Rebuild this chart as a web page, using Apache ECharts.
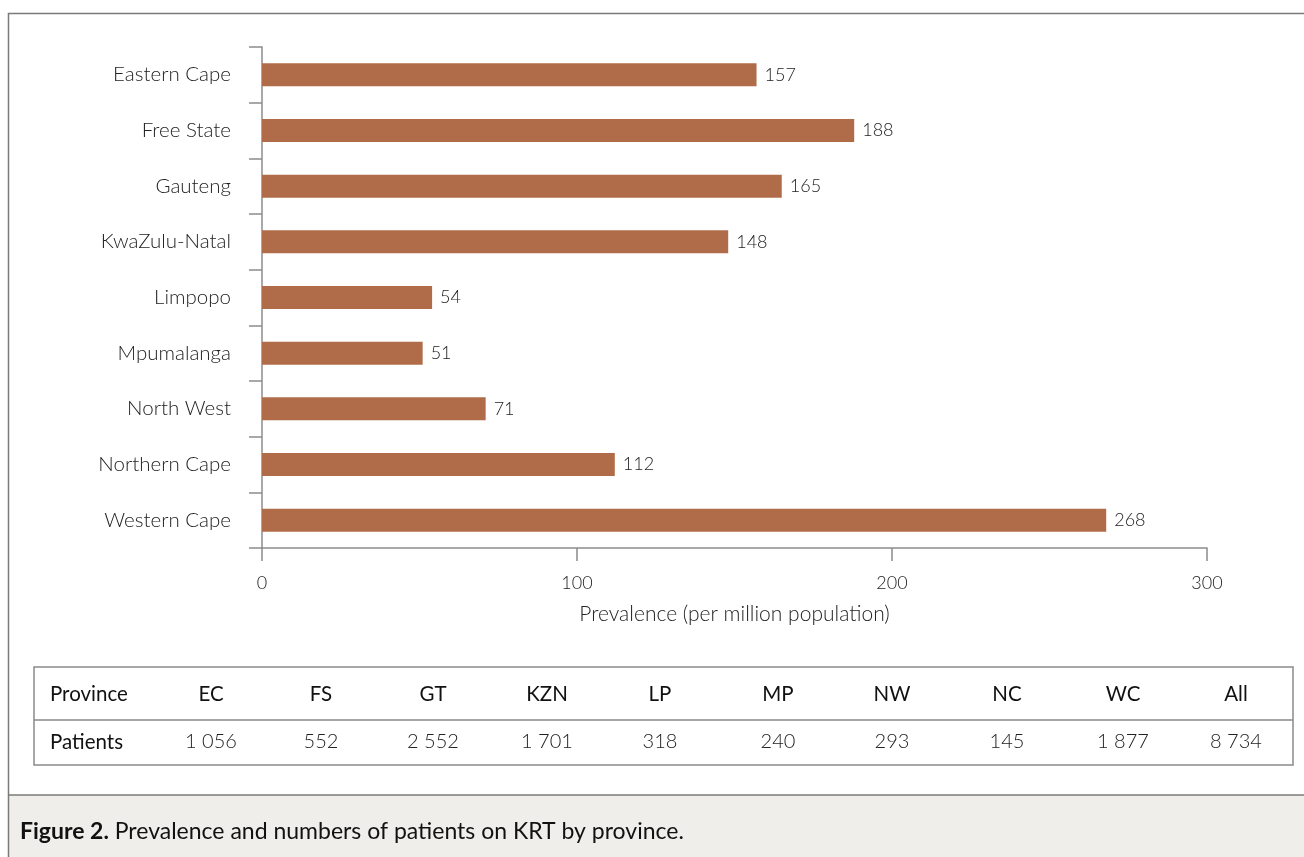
<!DOCTYPE html>
<html>
<head>
<meta charset="utf-8">
<style>
  html, body { margin: 0; padding: 0; background: #ffffff; }
  #chart { width: 1304px; height: 857px; }
</style>
<script src="https://cdn.jsdelivr.net/npm/echarts@6/dist/echarts.min.js"></script>
</head>
<body>
<div id="chart"></div>
<script>
// Provinces, top to bottom
const provinces = ['Eastern Cape', 'Free State', 'Gauteng', 'KwaZulu-Natal', 'Limpopo',
                   'Mpumalanga', 'North West', 'Northern Cape', 'Western Cape'];
// KRT prevalence per million population
const prevalence = [157, 188, 165, 148, 54, 51, 71, 112, 268];
// Patient counts table
const tableHeaders = ['EC', 'FS', 'GT', 'KZN', 'LP', 'MP', 'NW', 'NC', 'WC', 'All'];
const patientCounts = ['1 056', '552', '2 552', '1 701', '318', '240', '293', '145', '1 877', '8 734'];
const rowTitles = ['Province', 'Patients'];
const axisTitle = 'Prevalence (per million population)';
const captionBold = 'Figure 2.';
const captionText = ' Prevalence and numbers of patients on KRT by province.';

const FONT = 'Lato, "Open Sans", sans-serif';
const AXIS_GREY = '#8c8c8c';
const TEXT = '#222222';

const chart = echarts.init(document.getElementById('chart'), null, { renderer: 'canvas' });

// Table geometry
const tLeft = 34, tRight = 1293, tTop = 667, tMid = 720, tBottom = 765;
const colX = [211, 321, 433, 547, 660, 778, 892, 1007, 1123, 1236];
const row1Y = 694, row2Y = 742;

const graphics = [
  // caption band
  { type: 'rect', shape: { x: 8, y: 795, width: 1296, height: 62 },
    style: { fill: '#efeeea' }, silent: true, z: 0 },
  // frame lines
  { type: 'polyline', shape: { points: [[8.5, 857], [8.5, 13.5], [1304, 13.5]] },
    style: { stroke: '#7a7a7a', lineWidth: 1.5, fill: null }, silent: true },
  { type: 'line', shape: { x1: 8, y1: 795, x2: 1304, y2: 795 },
    style: { stroke: '#7a7a7a', lineWidth: 1.5 }, silent: true },
  // table border
  { type: 'rect', shape: { x: tLeft, y: tTop, width: tRight - tLeft, height: tBottom - tTop },
    style: { stroke: '#8a8a8a', lineWidth: 1.5, fill: null }, silent: true },
  { type: 'line', shape: { x1: tLeft, y1: tMid, x2: tRight, y2: tMid },
    style: { stroke: '#8a8a8a', lineWidth: 1.5 }, silent: true },
  // row titles
  { type: 'text', x: 50, y: row1Y,
    style: { text: rowTitles[0], font: '400 20.5px ' + FONT, fill: '#111', verticalAlign: 'middle' } },
  { type: 'text', x: 50, y: row2Y,
    style: { text: rowTitles[1], font: '400 20.5px ' + FONT, fill: '#111', verticalAlign: 'middle' } },
  // caption
  { type: 'text', x: 20, y: 832,
    style: {
      text: '{b|' + captionBold + '}{n|' + captionText + '}',
      verticalAlign: 'middle',
      rich: {
        b: { font: '700 23px ' + FONT, fill: '#111' },
        n: { font: '400 23px ' + FONT, fill: '#111' }
      }
    } }
];

tableHeaders.forEach((h, i) => {
  graphics.push({ type: 'text', x: colX[i], y: row1Y,
    style: { text: h, font: '400 20.5px ' + FONT, fill: '#111', align: 'center', verticalAlign: 'middle' } });
  graphics.push({ type: 'text', x: colX[i], y: row2Y,
    style: { text: patientCounts[i], font: '300 20px ' + FONT, fill: '#222', align: 'center', verticalAlign: 'middle' } });
});

const option = {
  animation: false,
  backgroundColor: '#ffffff',
  textStyle: { fontFamily: FONT },
  grid: { left: 262, right: 97, top: 47, bottom: 309, containLabel: false },
  xAxis: {
    type: 'value',
    min: 0, max: 300, interval: 100,
    name: axisTitle,
    nameLocation: 'middle',
    nameGap: 56,
    nameTextStyle: { fontSize: 21, fontWeight: 300, color: TEXT, fontFamily: FONT },
    axisLine: { show: true, lineStyle: { color: AXIS_GREY, width: 1.5 } },
    axisTick: { show: true, inside: false, length: 13, lineStyle: { color: AXIS_GREY, width: 1.5 } },
    axisLabel: { margin: 26, fontSize: 18, fontWeight: 300, color: TEXT, fontFamily: FONT },
    splitLine: { show: false }
  },
  yAxis: {
    type: 'category',
    inverse: true,
    data: provinces,
    axisLine: { show: true, lineStyle: { color: AXIS_GREY, width: 1.5 } },
    axisTick: { show: true, length: 13, alignWithLabel: false, lineStyle: { color: AXIS_GREY, width: 1.5 } },
    axisLabel: { margin: 31, fontSize: 20.5, fontWeight: 300, color: TEXT, fontFamily: FONT }
  },
  series: [{
    type: 'bar',
    data: prevalence,
    barWidth: 23,
    itemStyle: { color: '#b06c48' },
    label: {
      show: true, position: 'right', distance: 8,
      fontSize: 18, fontWeight: 300, color: TEXT, fontFamily: FONT
    }
  }],
  graphic: graphics
};

chart.setOption(option);
</script>
</body>
</html>
